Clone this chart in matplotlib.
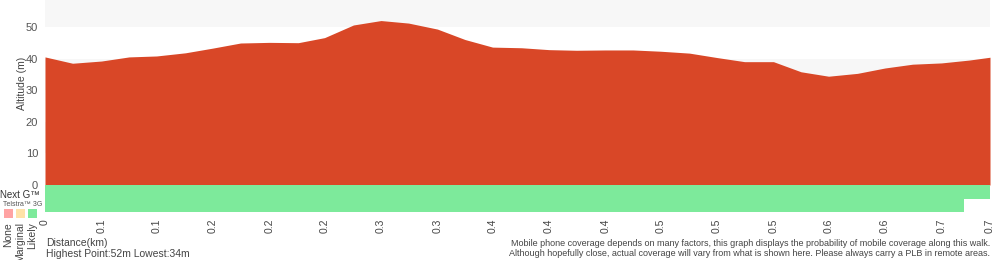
import matplotlib
matplotlib.use('Agg')
import matplotlib.pyplot as plt

plt.rcParams['font.family'] = ['Liberation Sans', 'DejaVu Sans']

# === DADOS ===
distancia_km = [0.000, 0.021, 0.043, 0.064, 0.085, 0.107, 0.128, 0.149, 0.171, 0.193,
                0.213, 0.235, 0.256, 0.277, 0.299, 0.320, 0.341, 0.363, 0.384, 0.405,
                0.427, 0.448, 0.469, 0.491, 0.512, 0.533, 0.555, 0.576, 0.597, 0.619,
                0.640, 0.661, 0.683, 0.704, 0.720]
altitude_m = [40.5, 38.5, 39.2, 40.5, 40.8, 41.8, 43.3, 44.9, 45.1, 45.0,
              46.6, 50.6, 52.0, 51.2, 49.3, 46.0, 43.6, 43.4, 42.8, 42.6,
              42.7, 42.7, 42.3, 41.7, 40.3, 39.0, 39.0, 35.8, 34.4, 35.3,
              37.0, 38.2, 38.6, 39.5, 40.4]

ticks_km = [0.000, 0.043, 0.085, 0.128, 0.171, 0.213, 0.256, 0.299, 0.341, 0.384,
            0.427, 0.469, 0.512, 0.555, 0.597, 0.640, 0.683, 0.720]
ticks_rotulos = ['0', '0.1', '0.1', '0.2', '0.2', '0.2', '0.3', '0.3', '0.4', '0.4',
                 '0.4', '0.5', '0.5', '0.5', '0.6', '0.6', '0.7', '0.7']

# cobertura: (inicio_km, fim_km, nivel) por rede
cobertura_nextg = [(0.000, 0.720, 'Likely')]
cobertura_3g = [(0.000, 0.700, 'Likely')]

cores_cobertura = {'None': '#ffa3a3', 'Marginal': '#ffe2a8', 'Likely': '#7dea9b'}
COR_ALT = '#d94727'
COR_TEXTO = '#444444'
xmax = 0.720

# === FIGURA ===
fig = plt.figure(figsize=(10, 2.6), dpi=100)
ax = fig.add_axes([0.045, 75 / 260, 0.945, 185 / 260])
ax_cob = fig.add_axes([0.045, 48 / 260, 0.945, 27 / 260])

# faixas alternadas de fundo
for y0 in [10, 30, 50]:
    ax.axhspan(y0, y0 + 10, color='#f7f7f7', lw=0, zorder=0)

ax.fill_between(distancia_km, altitude_m, 0, color=COR_ALT, lw=0, zorder=2)
ax.set_xlim(0, xmax)
ax.set_ylim(0, 58.5)
ax.set_yticks([0, 10, 20, 30, 40, 50])
ax.tick_params(axis='y', length=0, labelsize=8, labelcolor='#555555', pad=5)
ax.set_xticks([])
for s in ax.spines.values():
    s.set_visible(False)
fig.text(0.022, 1 - 83 / 260, 'Altitude (m)', rotation=90, fontsize=7.5,
         color=COR_TEXTO, ha='center', va='center')

# === FAIXA DE COBERTURA ===
for linha, segmentos in [(1, cobertura_nextg), (0, cobertura_3g)]:
    for ini, fim, nivel in segmentos:
        ax_cob.barh(linha, fim - ini, left=ini, height=1.0,
                    color=cores_cobertura[nivel], lw=0)
ax_cob.set_xlim(0, xmax)
ax_cob.set_ylim(-0.5, 1.5)
ax_cob.set_yticks([])
ax_cob.set_xticks(ticks_km)
ax_cob.set_xticklabels(ticks_rotulos, rotation=90, fontsize=7.5, color=COR_TEXTO)
ax_cob.tick_params(axis='x', length=0, pad=5)
for s in ax_cob.spines.values():
    s.set_visible(False)

# rótulos à esquerda
fig.text(0.0, 1 - 195 / 260, 'Next G™', fontsize=7.0, color='#333333', va='center', ha='left')
fig.text(0.003, 1 - 205 / 260, 'Telstra™ 3G', fontsize=5.0, color='#555555', va='center', ha='left')

# legenda
for i, nivel in enumerate(['None', 'Marginal', 'Likely']):
    x0 = 4 + 12 * i
    fig.patches.append(plt.Rectangle((x0 / 1000, 1 - 218 / 260), 9 / 1000, 9 / 260,
                                     transform=fig.transFigure, facecolor=cores_cobertura[nivel],
                                     edgecolor='none'))
    fig.text((x0 + 4.5) / 1000, 1 - 222 / 260, nivel, rotation=90, fontsize=7.5,
             color=COR_TEXTO, ha='center', va='top')

# textos inferiores
fig.text(0.046, 1 - 243 / 260, 'Distance(km)', fontsize=7.5, color=COR_TEXTO, va='center')
fig.text(0.046, 1 - 254 / 260, 'Highest Point:52m Lowest:34m', fontsize=7.5, color=COR_TEXTO, va='center')
fig.text(0.99, 1 - 243 / 260,
         'Mobile phone coverage depends on many factors, this graph displays the probability of mobile coverage along this walk.',
         fontsize=6.5, color=COR_TEXTO, va='center', ha='right')
fig.text(0.99, 1 - 254 / 260,
         'Although hopefully close, actual coverage will vary from what is shown here. Please always carry a PLB in remote areas.',
         fontsize=6.5, color=COR_TEXTO, va='center', ha='right')

plt.savefig('out.png', dpi=100)
